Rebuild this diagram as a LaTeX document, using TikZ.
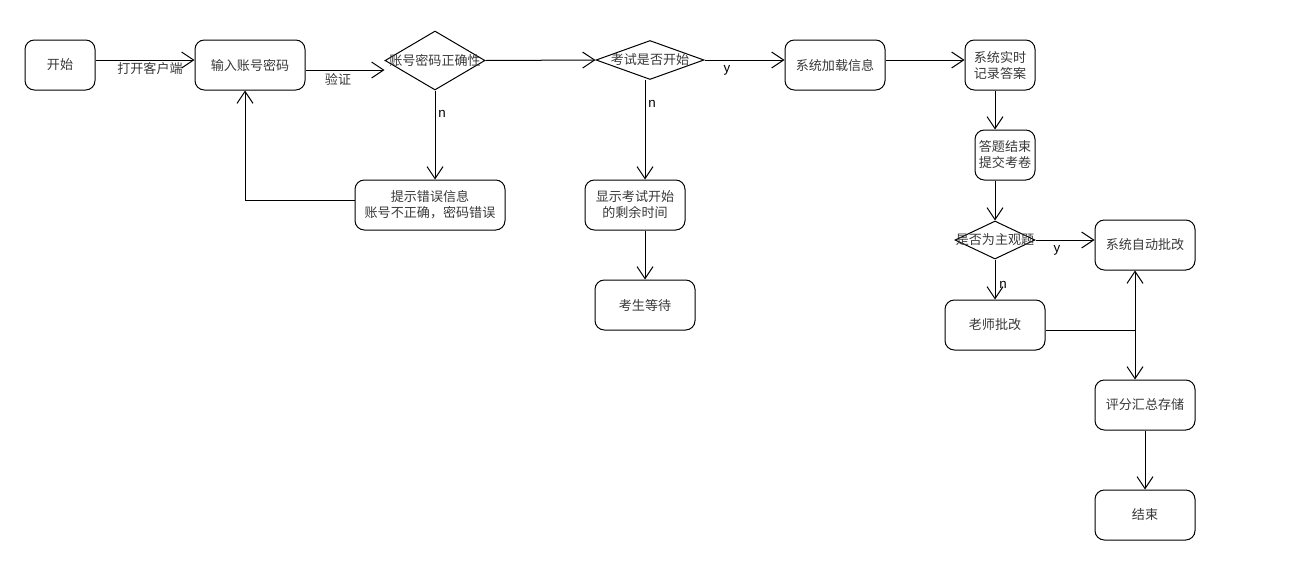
\documentclass[tikz,border=0pt]{standalone}
\usepackage{fontspec}
\setmainfont{Liberation Sans}
\newfontfamily\cjk{Noto Sans CJK SC}
\usetikzlibrary{shapes.geometric,arrows.meta}
\definecolor{txt}{rgb}{0.22,0.22,0.22}
\tikzset{
  box/.style={draw, line width=0.75pt, rounded corners=7pt, inner sep=1pt, minimum height=37.5pt, align=center, font=\cjk\fontsize{9.8}{12}\selectfont, text=txt},
  dia/.style={draw, line width=0.75pt, diamond, inner sep=0pt},
  dtext/.style={font=\cjk\fontsize{9.8}{12}\selectfont, text=txt, inner sep=0pt},
  lab/.style={font=\cjk\fontsize{9.8}{12}\selectfont, text=txt, inner sep=0pt},
  yn/.style={font=\fontsize{10}{12}\selectfont, inner sep=0pt},
  arr/.style={line width=0.75pt, -{Straight Barb[length=9pt,width=12pt,line width=0.75pt]}},
  ln/.style={line width=0.75pt}
}
\begin{document}
\begin{tikzpicture}[x=0.75pt,y=-0.75pt]
\useasboundingbox (0,0) rectangle (1310,579);
% nodes
\node[box, minimum width=52.5pt] (start) at (60,65) {开始};
\node[box, minimum width=82.5pt] (input) at (250,65) {输入账号密码};
\node[dia, minimum width=75pt, minimum height=44.25pt] (d1) at (435,60.5) {};
\node[dtext] (d1t) at (435,60) {账号密码正确性};
\node[dia, minimum width=81pt, minimum height=29.25pt] (d2) at (650,60) {};
\node[dtext] (d2t) at (650,60) {考试是否开始};
\node[box, minimum width=75pt] (load) at (835,65) {系统加载信息};
\node[box, minimum width=52.5pt] (record) at (1000,65) {系统实时\\记录答案};
\node[box, minimum width=45pt] (submit) at (1005,155) {答题结束\\提交考卷};
\node[dia, minimum width=60pt, minimum height=28.5pt] (d3) at (995,240) {};
\node[dtext] (d3t) at (995,240) {是否为主观题};
\node[box, minimum width=75pt] (auto) at (1145,245) {系统自动批改};
\node[box, minimum width=75pt] (teacher) at (995,325) {老师批改};
\node[box, minimum width=75pt] (score) at (1145,405) {评分汇总存储};
\node[box, minimum width=75pt] (end) at (1145,515) {结束};
\node[box, minimum width=112.5pt] (err) at (430,205) {提示错误信息\\账号不正确，密码错误};
\node[box, minimum width=75pt] (show) at (635,205) {显示考试开始\\的剩余时间};
\node[box, minimum width=75pt] (wait) at (645,305) {考生等待};
\coordinate (j) at (1135,330);
% labels
\node[lab] (l1) at (150,69) {打开客户端};
\node[lab] (l2) at (338,79) {验证};
\node[yn] (n1) at (442,114) {n};
\node[yn] (n2) at (652,104) {n};
\node[yn] (y1) at (727,70) {y};
\node[yn] (y2) at (1057,250) {y};
\node[yn] (n3) at (1003,285) {n};
% connectors
\draw[arr] ([yshift=3.75pt]start.east) -- ([yshift=3.75pt]input.west);
\draw[arr] ([yshift=-3.75pt]input.east) -- ([yshift=-3.75pt]input.east -| d1.west);
\draw[arr] (d1.east) -- (d2.west);
\draw[arr] (d2.east) -- (d2.east -| load.west);
\draw[arr] ([yshift=3.75pt]load.east) -- ([yshift=3.75pt]record.west);
\draw[arr] ([xshift=-3.75pt]record.south) -- ([xshift=-3.75pt]record.south |- submit.north);
\draw[arr] ([xshift=-7.5pt]submit.south) -- (d3.north);
\draw[arr] (d3.east) -- (d3.east -| auto.west);
\draw[arr] (d3.south) -- (teacher.north);
\draw[ln] ([yshift=-3.75pt]teacher.east) -- (j);
\draw[arr] (j) -- (j |- auto.south);
\draw[arr] (j) -- (j |- score.north);
\draw[arr] (score.south) -- (end.north);
\draw[arr] (d1.south) -- (d1.south |- err.north);
\draw[arr] ([yshift=3.75pt]err.west) -| ([xshift=-3.75pt]input.south);
\draw[arr] ([xshift=-3.75pt]d2.south) -- ([xshift=-3.75pt]d2.south |- show.north);
\draw[arr] (wait.north |- show.south) -- (wait.north);
\end{tikzpicture}
\end{document}
